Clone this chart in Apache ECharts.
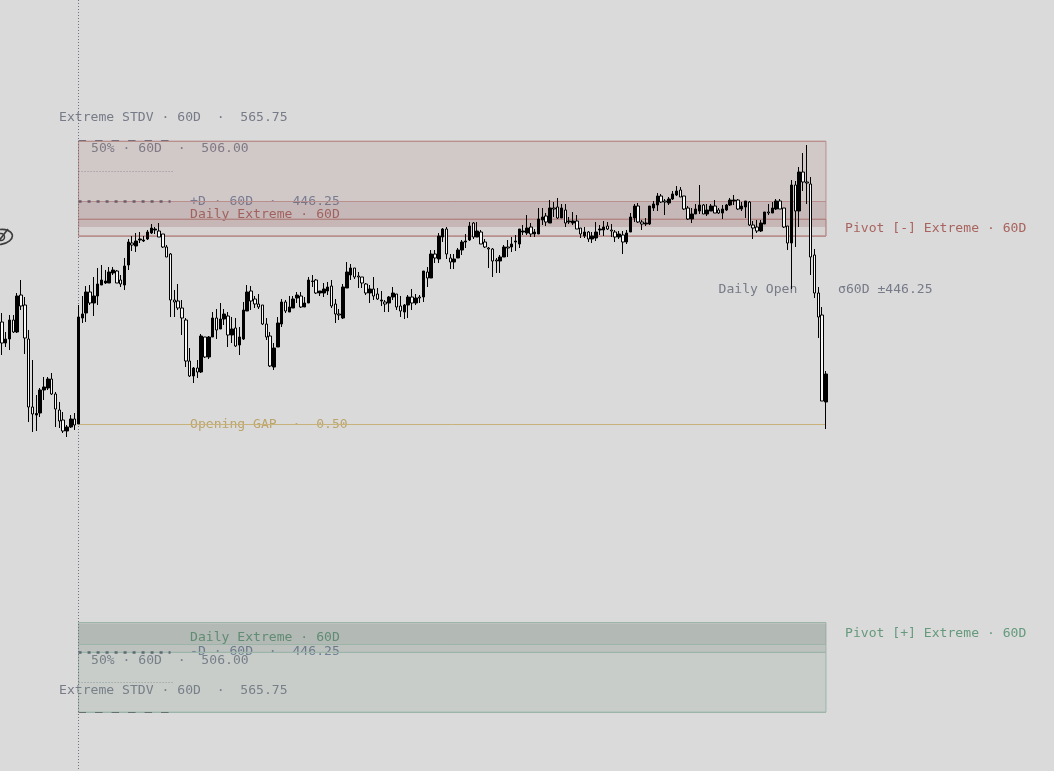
<!DOCTYPE html>
<html>
<head>
<meta charset="utf-8">
<style>html,body{margin:0;padding:0;background:#dadada}#chart{width:1054px;height:771px}</style>
<script src="https://cdn.jsdelivr.net/npm/echarts@6/dist/echarts.min.js"></script>
</head>
<body>
<div id="chart"></div>
<script>
// Session candles, in points relative to the daily open.
const opens = [205,163,171,209,185,259,239,171,35,19,23,69,73,91,61,29,9,-13,-5,11,1,213,223,265,243,257,279,283,283,303,307,289,279,319,363,357,369,367,371,383,389,387,381,355,341,249,247,233,209,127,97,113,105,175,135,175,213,191,211,217,179,193,159,171,227,267,251,241,239,201,177,115,155,201,245,225,233,253,257,235,243,286,289,263,263,267,277,241,221,213,273,299,313,297,295,281,263,271,261,247,245,243,255,261,237,225,239,255,243,255,255,305,293,341,331,375,391,333,325,333,349,365,369,403,375,385,365,353,351,329,327,335,355,355,365,361,385,383,395,381,381,409,417,403,433,435,413,429,405,403,407,393,377,385,371,373,389,389,397,389,385,375,379,365,385,413,437,405,401,401,433,439,457,447,443,451,459,469,457,433,411,421,427,439,421,427,437,429,423,429,439,447,449,431,435,445,399,395,387,401,425,423,431,447,433,397,363,479,427,505,485,481,339,263,219,45];
const closes = [163,171,209,185,257,237,173,35,21,22,69,75,91,61,31,7,-13,-5,11,-1,215,221,265,243,257,281,289,287,305,309,283,281,317,365,359,367,371,369,385,393,391,375,355,335,249,245,233,213,127,97,113,105,177,135,175,213,189,211,221,179,191,157,175,229,265,247,241,235,201,175,117,153,203,245,227,235,251,259,235,243,289,287,263,267,271,275,237,221,219,275,305,313,295,295,283,263,271,257,251,249,241,255,263,235,227,239,255,243,253,253,307,293,341,333,377,391,341,325,331,349,365,367,397,375,387,361,355,351,327,327,335,355,353,361,367,391,387,393,381,385,411,415,405,433,431,413,433,403,407,407,391,381,385,371,377,385,391,395,391,387,375,381,365,383,415,437,405,401,403,437,441,457,445,445,451,461,467,455,431,411,421,431,439,421,429,437,423,423,431,439,449,449,431,437,447,399,393,387,403,425,423,433,447,431,395,363,479,427,505,485,483,335,263,215,47,101];
const highs = [223,185,219,219,263,289,255,189,129,59,73,95,95,103,65,45,25,-1,19,23,239,257,277,279,295,313,319,309,315,315,309,299,333,371,377,383,385,377,389,401,395,403,381,359,343,269,281,249,213,153,115,129,181,175,177,225,231,243,231,225,215,213,195,245,279,277,257,261,239,213,185,163,215,251,249,257,257,265,265,255,295,299,291,267,283,285,289,251,231,281,325,321,313,305,295,283,279,295,273,267,249,257,275,261,257,241,259,271,261,259,307,315,349,349,383,393,395,341,341,353,369,381,405,405,405,389,371,355,353,333,339,359,369,375,379,391,399,419,403,391,433,433,423,449,445,453,441,441,415,425,419,393,395,387,385,405,399,407,405,401,389,387,387,389,423,441,443,409,413,437,447,463,461,451,455,467,477,475,457,437,433,441,479,441,441,441,449,433,439,441,453,459,451,445,447,447,407,409,409,425,441,445,451,451,433,397,489,487,515,543,559,495,351,275,235,107];
const lows = [139,155,149,183,183,229,141,5,-15,-13,15,49,69,59,-5,-7,-17,-25,-7,-11,1,203,205,239,217,239,279,281,283,299,283,275,269,309,347,345,363,365,369,381,381,375,353,335,215,215,229,179,115,95,83,93,103,133,131,175,171,191,199,155,163,155,139,169,227,229,233,231,199,169,115,109,155,195,223,225,233,243,233,235,243,275,261,257,255,259,233,203,209,211,273,289,291,273,273,259,243,249,249,237,225,225,249,229,215,211,213,229,239,243,245,275,293,323,323,365,331,311,311,333,339,353,367,371,375,361,353,313,295,303,303,335,335,345,347,353,379,379,375,375,381,399,397,403,415,411,413,395,401,399,391,373,373,365,363,367,379,377,389,375,365,371,341,361,385,405,403,389,397,399,427,427,443,419,439,449,457,455,429,409,403,421,421,421,417,427,423,421,411,427,437,439,429,427,413,397,371,383,385,401,419,423,429,431,393,349,271,355,395,467,441,299,253,173,47,-9];

// Levels measured from each session's reference, in points.
const bandLevels = [446.25, 506.00, 565.75];
const upperAnchor = 1;
const lowerAnchor = -9.5;
const pivotUpper = [411, 395, 377];
const pivotLower = [-396, -399, -439];
const openingGap = 0.50;

const firstBar = 20;
const lastBar = opens.length - 1;
const slotCount = 275;
const categories = Array.from({length: slotCount}, (_, i) => String(i));
const candles = opens.map((o, i) => [o, closes[i], lows[i], highs[i]]);

const upperLevels = bandLevels.map(v => upperAnchor + v);
const lowerLevels = bandLevels.map(v => lowerAnchor - v);

const tickStub = firstBar + 25;
const area = (lo, hi, fill, line) => [
  {xAxis: categories[firstBar], yAxis: hi, itemStyle: {color: fill, borderColor: line || 'transparent', borderWidth: line ? 1 : 0}},
  {xAxis: categories[lastBar], yAxis: lo}
];
const hline = (value, color, from, to, type, width) => [
  {xAxis: categories[from], yAxis: value, lineStyle: {color, type, width}},
  {xAxis: categories[to], yAxis: value}
];

const txt = (str, x, y, fill) => ({
  type: 'text', z: 1, silent: true, x, y,
  style: {text: str, fill, font: '13.1px "DejaVu Sans Mono", monospace', textVerticalAlign: 'middle', textBaseline: 'middle'}
});

const grey = '#777b88';
const blue = '#6f7e98';
const red = '#a8645f';
const green = '#659a7d';
const gold = '#bba56c';
const redEdge = '#b88f8d';
const greenEdge = '#9db5a8';

const chart = echarts.init(document.getElementById('chart'), null, {renderer: 'canvas'});
chart.setOption({
  animation: false,
  backgroundColor: '#dadada',
  grid: {left: -0.32, top: 0, width: 1056, height: 771, containLabel: false},
  xAxis: {
    type: 'category', data: categories, boundaryGap: true,
    axisLine: {show: false}, axisTick: {show: false}, axisLabel: {show: false}, splitLine: {show: false}
  },
  yAxis: {
    type: 'value', min: -693, max: 849, scale: true,
    axisLine: {show: false}, axisTick: {show: false}, axisLabel: {show: false}, splitLine: {show: false}
  },
  graphic: [
    txt('Extreme STDV · 60D  ·  565.75', 59, 118, grey),
    txt('50% · 60D  ·  506.00', 91, 148.5, grey),
    txt('+D · 60D  ·  446.25', 190, 201.5, blue),
    txt('Daily Extreme · 60D', 190, 214.5, red),
    txt('Pivot [-] Extreme · 60D', 845, 228.5, red),
    txt('Daily Open', 718.5, 289.5, grey),
    txt('σ60D ±446.25', 838, 289.5, grey),
    txt('Opening GAP  ·  0.50', 190, 425, gold),
    txt('Daily Extreme · 60D', 190, 637.5, green),
    txt('Pivot [+] Extreme · 60D', 845, 633.5, green),
    txt('-D · 60D  ·  446.25', 190, 651.5, blue),
    txt('50% · 60D  ·  506.00', 91, 660.5, grey),
    txt('Extreme STDV · 60D  ·  565.75', 59, 690.5, grey),
    // Crossed-out eye glyph, clipped by the left edge
    {type: 'group', x: 0, y: 237, z: 1, silent: true, children: [
      {type: 'ellipse', rotation: 0.15, shape: {cx: 0, cy: 0, rx: 12.5, ry: 7.5}, style: {fill: 'none', stroke: '#3c3c3c', lineWidth: 1.6}},
      {type: 'circle', shape: {cx: 1, cy: 0, r: 3.5}, style: {fill: 'none', stroke: '#3c3c3c', lineWidth: 1.5}},
      {type: 'line', shape: {x1: -2, y1: 5, x2: 8, y2: -8}, style: {stroke: '#3c3c3c', lineWidth: 1.6}}
    ]}
  ],
  series: [{
    type: 'candlestick',
    z: 5,
    data: candles,
    barWidth: 3,
    itemStyle: {color: '#000000', color0: '#f7f7f7', borderColor: '#000000', borderColor0: '#000000', borderWidth: 1},
    markArea: {
      silent: true, z: 1,
      data: [
        area(pivotUpper[1], upperLevels[2], 'rgba(166,110,110,0.17)'),
        area(pivotUpper[1], upperLevels[0], 'rgba(120,80,80,0.13)'),
        area(pivotUpper[2], pivotUpper[0], 'rgba(200,175,175,0.16)', redEdge),
        area(pivotUpper[2], upperLevels[2], 'transparent', redEdge),
        area(lowerLevels[0], pivotLower[0], 'rgba(90,110,95,0.22)', greenEdge),
        area(lowerLevels[2], lowerLevels[0], 'rgba(120,150,135,0.18)', greenEdge),
        area(pivotLower[2], pivotLower[1], 'rgba(90,110,95,0.10)')
      ]
    },
    markLine: {
      silent: true, symbol: 'none', z: 2, label: {show: false},
      data: [
        hline(upperLevels[2], redEdge, firstBar, lastBar, 'solid', 1),
        hline(upperLevels[0], redEdge, firstBar, lastBar, 'solid', 1),
        hline(pivotUpper[0], '#b08582', firstBar, lastBar, 'solid', 1),
        hline(pivotUpper[2], redEdge, firstBar, lastBar, 'solid', 1),
        hline(pivotLower[0], greenEdge, firstBar, lastBar, 'solid', 1),
        hline(pivotLower[2], greenEdge, firstBar, lastBar, 'solid', 1),
        hline(lowerLevels[0], greenEdge, firstBar, lastBar, 'solid', 1),
        hline(lowerLevels[2], greenEdge, firstBar, lastBar, 'solid', 1),
        hline(openingGap, '#c9b27a', firstBar, lastBar, 'solid', 1),
        hline(upperLevels[2] + 1, '#77707a', firstBar, tickStub - 1, [7.5, 9], 1),
        hline(upperLevels[1], '#9a8f96', firstBar, tickStub, [1, 2], 1),
        hline(upperLevels[0], '#6b5c68', firstBar, tickStub - 1, [3, 6], 2.5),
        hline(lowerLevels[0], '#5c6a72', firstBar, tickStub - 1, [3, 6], 2.5),
        hline(lowerLevels[1], '#8f9a98', firstBar, tickStub, [1, 2], 1),
        hline(lowerLevels[2], '#66706f', firstBar, tickStub - 1, [7.5, 9], 1),
        [
          {xAxis: categories[firstBar], yAxis: 849, lineStyle: {color: '#70707a', type: [1, 2], width: 1}},
          {xAxis: categories[firstBar], yAxis: -693}
        ]
      ]
    }
  }]
});
</script>
</body>
</html>
